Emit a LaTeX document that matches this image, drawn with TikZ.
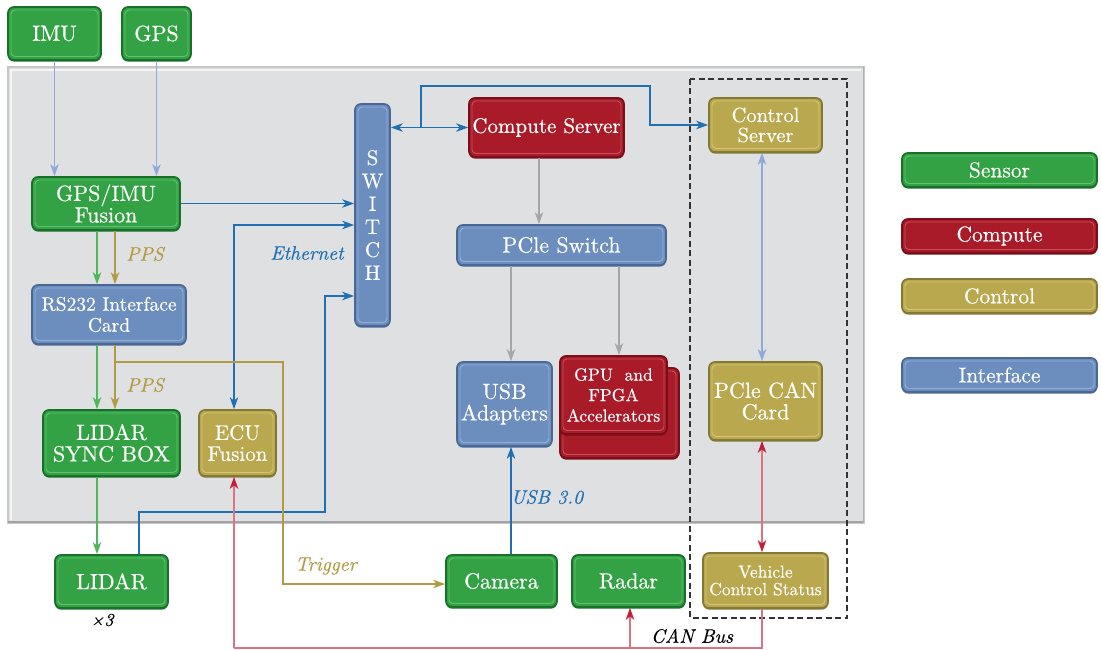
\documentclass[tikz,border=0pt]{standalone}
\usepackage{fontspec}
\setmainfont{lmroman10-regular.otf}[ItalicFont=lmroman10-italic.otf, RawFeature={embolden=0.4}]
\usetikzlibrary{arrows.meta,shadows,calc}
\definecolor{gA}{HTML}{33A244}\definecolor{gD}{HTML}{187029}\definecolor{gL}{HTML}{62C26F}
\definecolor{rA}{HTML}{A91B29}\definecolor{rD}{HTML}{7A0E19}\definecolor{rL}{HTML}{C8505C}
\definecolor{yA}{HTML}{B9A84E}\definecolor{yD}{HTML}{857837}\definecolor{yL}{HTML}{D3C578}
\definecolor{bA}{HTML}{6C8EBF}\definecolor{bD}{HTML}{4A6894}\definecolor{bL}{HTML}{94AFD7}
\definecolor{panel}{HTML}{DFE0E2}
\definecolor{ethC}{HTML}{1F6FB2}
\definecolor{goldC}{HTML}{B39B45}
\definecolor{grnC}{HTML}{4CB85A}
\definecolor{grayC}{HTML}{A6A6A6}
\definecolor{lblueC}{HTML}{8DAAD8}
\definecolor{canC}{HTML}{DC7382}
\definecolor{canT}{HTML}{C41E3A}
\tikzset{
  box/.style n args={3}{rounded corners=6pt, fill=#1, draw=#2, line width=1.7pt,
    text=white, align=center, inner sep=0pt,
    font=\fontsize{22}{21.5}\selectfont,
    drop shadow={shadow xshift=0pt,shadow yshift=-1.6pt,fill=#2,opacity=1},
    path picture={\draw[#3,line width=0.9pt,rounded corners=4pt]
      ([shift={(3pt,-3pt)}]path picture bounding box.north west) rectangle
      ([shift={(-3pt,3.5pt)}]path picture bounding box.south east);}},
  sensor/.style={box={gA}{gD}{gL}},
  computebox/.style={box={rA}{rD}{rL}},
  controlbox/.style={box={yA}{yD}{yL}},
  ifacebox/.style={box={bA}{bD}{bL}},
  wire/.style={line width=1.2pt},
  lbl/.style={font=\fontsize{19.5}{21}\selectfont\itshape, inner sep=0pt},
  legendfont/.style={font=\fontsize{21.5}{22}\selectfont},
}
\begin{document}
\begin{tikzpicture}[x=1pt,y=-1pt,>={Stealth[length=12pt,width=8.5pt,inset=3.5pt]}]
\useasboundingbox (0,0) rectangle (1101,650);
% panel
\fill[panel] (8,67) rectangle (864,523);
\draw[black!22,line width=1.5pt] (8,67) rectangle (864,523);
\draw[white!96!black,line width=1.2pt] (11,520) -- (11,70) -- (861,70);
\draw[black!36,line width=2.4pt] (8,522) -- (864,522);
\draw[black!30,line width=1.6pt] (863.5,67) -- (863.5,523);
% dashed group
\draw[black!80,line width=1.2pt,dash pattern=on 6pt off 3.5pt] (690,79) rectangle (847,618);

% nodes
\node[sensor,minimum width=93pt,minimum height=53pt] (IMU) at (54.5,33.5) {IMU};
\node[sensor,minimum width=69pt,minimum height=53pt] (GPS) at (156.5,33.5) {GPS};
\node[sensor,minimum width=148pt,minimum height=53pt] (Fusion) at (106,203.5) {GPS/IMU\\Fusion};
\node[ifacebox,minimum width=154pt,minimum height=59pt,font=\fontsize{19.5}{21}\selectfont] (RS) at (109,314.5) {RS232 Interface\\Card};
\node[sensor,minimum width=137pt,minimum height=66pt] (LSync) at (111.5,443) {LIDAR\\SYNC BOX};
\node[controlbox,minimum width=77pt,minimum height=66pt,font=\fontsize{21}{21}\selectfont] (ECU) at (237.5,443) {ECU\\Fusion};
\node[sensor,minimum width=113pt,minimum height=53pt] (LIDAR) at (111.5,581.5) {LIDAR};
\node[font=\fontsize{18}{19}\selectfont\itshape, inner sep=0pt] (x3) at (102,620) {×3};
\node[ifacebox,minimum width=35pt,minimum height=222pt,font=\fontsize{21}{23}\selectfont] (SW) at (372.5,215) {S\\W\\I\\T\\C\\H};
\node[computebox,minimum width=155pt,minimum height=59pt,font=\fontsize{21}{21}\selectfont] (CS) at (546.5,127.5) {Compute Server};
\node[ifacebox,minimum width=209pt,minimum height=40pt] (PCIe) at (561.5,245) {PCle Switch};
\node[ifacebox,minimum width=95pt,minimum height=84pt] (USB) at (504.5,404) {USB\\Adapters};
\node[computebox,minimum width=119pt,minimum height=90pt] (GPUb) at (619.5,413) {};
\node[computebox,minimum width=107pt,minimum height=78pt,font=\fontsize{17.5}{20.5}\selectfont] (GPU) at (613.5,395) {GPU\ \ and\\FPGA\\Accelerators};
\node[controlbox,minimum width=113pt,minimum height=54pt,font=\fontsize{20.5}{20}\selectfont] (CtrlS) at (765.5,125) {Control\\Server};
\node[controlbox,minimum width=113pt,minimum height=78pt] (CAN) at (765.5,401) {PCle CAN\\Card};
\node[controlbox,minimum width=125pt,minimum height=55pt,font=\fontsize{17.5}{17.5}\selectfont] (VCS) at (765.5,580.5) {Vehicle\\Control Status};
\node[sensor,minimum width=111pt,minimum height=52pt] (Camera) at (501.5,581) {Camera};
\node[sensor,minimum width=113pt,minimum height=52pt] (Radar) at (628.5,581) {Radar};
% legend
\node[sensor,legendfont,minimum width=195pt,minimum height=34pt] (LgS) at (999.5,170) {Sensor};
\node[computebox,legendfont,minimum width=195pt,minimum height=34pt] (LgC) at (999.5,236) {Compute};
\node[controlbox,legendfont,minimum width=195pt,minimum height=34pt] (LgT) at (999.5,296) {Control};
\node[ifacebox,legendfont,minimum width=195pt,minimum height=34pt] (LgI) at (999.5,375) {Interface};

% connectors
\draw[wire,lblueC,->] (IMU.south) -- (IMU.south |- Fusion.north);
\draw[wire,lblueC,->] (GPS.south) -- (GPS.south |- Fusion.north);
\draw[wire,ethC,->] (Fusion.east) -- (Fusion.east -| SW.west);
\draw[wire,ethC,<->] ([xshift=-3.5pt]ECU.north) |- (SW.west |- 0,225);
\draw[wire,ethC,->] ([xshift=27.5pt]LIDAR.north) |- (325,512) |- (SW.west |- 0,296);
\draw[wire,ethC,<->] (SW.east |- CS.west) -- (CS.west);
\coordinate (split) at (421,127.5);
\draw[wire,ethC,->] (split) |- (650,86) |- (CtrlS.west);
\draw[wire,grayC,->] ([xshift=-7.5pt]CS.south) -- ([xshift=-7.5pt]CS.south |- PCIe.north);
\draw[wire,grayC,->] ([xshift=6.5pt]USB.north |- PCIe.south) -- ([xshift=6.5pt]USB.north);
\draw[wire,grayC,->] ([xshift=5.5pt]GPU.north |- PCIe.south) -- ([xshift=5.5pt]GPU.north);
\draw[wire,ethC,->] ([xshift=9.5pt]Camera.north) -- ([xshift=9.5pt]Camera.north |- USB.south);
\draw[wire,grnC,->] ([xshift=-9pt]Fusion.south) -- ([xshift=-9pt]Fusion.south |- RS.north);
\draw[wire,goldC,->] ([xshift=9pt]Fusion.south) -- ([xshift=9pt]Fusion.south |- RS.north);
\draw[wire,grnC,->] ([xshift=-12pt]RS.south) -- ([xshift=-12pt]RS.south |- LSync.north);
\draw[wire,goldC,->] ([xshift=6pt]RS.south) -- ([xshift=6pt]RS.south |- LSync.north);
\coordinate (trig) at (115,362);
\draw[wire,goldC,->] (trig) -| (283,584) -- (Camera.west |- 0,584);
\draw[wire,grnC,->] ([xshift=-14.5pt]LSync.south) -- ([xshift=-14.5pt]LSync.south |- LIDAR.north);
\draw[wire,lblueC,<->] ([xshift=-3.5pt]CtrlS.south) -- ([xshift=-3.5pt]CtrlS.south |- CAN.north);
\draw[wire,canC,{Stealth[length=12pt,width=8.5pt,inset=3.5pt,color=canT]}-{Stealth[length=12pt,width=8.5pt,inset=3.5pt,color=canT]}] ([xshift=-3.5pt]CAN.south) -- ([xshift=-3.5pt]CAN.south |- VCS.north);
\coordinate (busL) at (234,648);
\coordinate (busR) at (762,648);
\coordinate (busM) at (630,648);
\draw[wire,canC] ([xshift=-3.5pt]VCS.south) -- (busR) -- (busL);
\draw[wire,canC,-{Stealth[length=12pt,width=8.5pt,inset=3.5pt,color=canT]}] (busL) -- ([xshift=-3.5pt]ECU.south);
\draw[wire,canC,-{Stealth[length=12pt,width=8.5pt,inset=3.5pt,color=canT]}] (busM) -- (busM |- Radar.south);

% labels
\node[lbl,goldC] (pps1) at (145,254) {PPS};
\node[lbl,goldC] (pps2) at (145,385) {PPS};
\node[lbl,ethC] (ethl) at (307,253) {Ethernet};
\node[lbl,goldC] (trigl) at (326,566) {Trigger};
\node[lbl,ethC] (usbl) at (547,497) {USB 3.0};
\node[lbl,black] (canl) at (692,636) {CAN Bus};
\end{tikzpicture}
\end{document}
